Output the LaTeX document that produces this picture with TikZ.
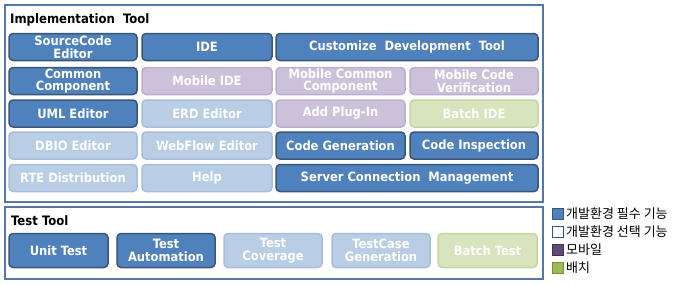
\documentclass[tikz,border=0pt]{standalone}
\usepackage{fontspec}
\setmainfont{DejaVu Sans Condensed}
\newfontfamily\krfont{Noto Sans CJK KR}
\definecolor{mustfill}{HTML}{4F81BD}
\definecolor{mustline}{HTML}{3A5676}
\definecolor{optfill}{HTML}{B9CDE5}
\definecolor{optline}{HTML}{A7BDDA}
\definecolor{mobfill}{HTML}{CCC1DA}
\definecolor{mobline}{HTML}{BBAFCB}
\definecolor{batfill}{HTML}{D7E4BD}
\definecolor{batline}{HTML}{C4D5A5}
\definecolor{frameline}{HTML}{5476A8}
\definecolor{legmob}{HTML}{604A7B}
\definecolor{legmobline}{HTML}{3F3151}
\definecolor{legbat}{HTML}{9BBB59}
\definecolor{legbatline}{HTML}{76923C}
\tikzset{
    tool/.style={draw, line width=1.5pt, rounded corners=4pt, inner sep=0pt,
        align=center, text=white, minimum height=27pt,
        font=\fontsize{12.8}{12.8}\selectfont\bfseries},
    musttool/.style={tool, fill=mustfill, draw=mustline},
    opttool/.style={tool, fill=optfill, draw=optline},
    mobiletool/.style={tool, fill=mobfill, draw=mobline},
    batchtool/.style={tool, fill=batfill, draw=batline},
    group/.style={draw=frameline, line width=2pt, anchor=north west, inner sep=0pt},
    grouptitle/.style={anchor=west, inner sep=0pt, font=\fontsize{13}{13}\selectfont\bfseries},
    legbox/.style={draw, line width=1.5pt, minimum size=11pt, inner sep=0pt},
    legtext/.style={anchor=west, inner sep=0pt, font=\krfont\fontsize{13}{13}\selectfont}
}
\begin{document}
\begin{tikzpicture}[x=1pt,y=-1pt]
    \useasboundingbox (0,0) rectangle (675,284);
    % implementation tool
    \node[group, minimum width=538pt, minimum height=197pt] (impl) at (4,4) {};
    \node[grouptitle] (impltitle) at (10,20) {Implementation~~Tool};
    \node[musttool, minimum width=128pt] (srcedit) at (73,47) {SourceCode\\Editor};
    \node[musttool, minimum width=130pt] (ide) at (207,47) {IDE};
    \node[musttool, minimum width=262pt] (custom) at (407,47) {Customize~~Development~~Tool};
    \node[musttool, minimum width=128pt] (common) at (73,81) {Common\\Component};
    \node[mobiletool, minimum width=130pt] (mobide) at (207,81) {Mobile IDE};
    \node[mobiletool, minimum width=129pt] (mobcommon) at (340.5,81) {Mobile Common\\Component};
    \node[mobiletool, minimum width=128pt] (mobverify) at (474,81) {Mobile Code\\Verification};
    \node[musttool, minimum width=128pt] (uml) at (73,113.5) {UML Editor};
    \node[opttool, minimum width=130pt] (erd) at (207,113.5) {ERD Editor};
    \node[mobiletool, minimum width=129pt] (plugin) at (340.5,113.5) {Add Plug-In};
    \node[batchtool, minimum width=128pt] (batchide) at (474,113.5) {Batch IDE};
    \node[opttool, minimum width=128pt] (dbio) at (73,145.5) {DBIO Editor};
    \node[opttool, minimum width=130pt] (webflow) at (207,145.5) {WebFlow Editor};
    \node[musttool, minimum width=129pt] (codegen) at (340.5,145.5) {Code Generation};
    \node[musttool, minimum width=128pt] (inspect) at (474,145.5) {Code Inspection};
    \node[opttool, minimum width=128pt] (rte) at (73,178) {RTE Distribution};
    \node[opttool, minimum width=130pt] (help) at (207,178) {Help};
    \node[musttool, minimum width=262pt] (server) at (407,178) {Server Connection~~Management};
    % test tool
    \node[group, minimum width=538pt, minimum height=72pt] (test) at (4,206) {};
    \node[grouptitle] (testtitle) at (11,221) {Test Tool};
    \node[musttool, minimum width=99pt, minimum height=34pt] (unit) at (58.5,250.5) {Unit Test};
    \node[musttool, minimum width=98pt, minimum height=34pt] (autotest) at (166,250.5) {Test\\Automation};
    \node[opttool, minimum width=98pt, minimum height=34pt] (coverage) at (273,250.5) {Test\\Coverage};
    \node[opttool, minimum width=98pt, minimum height=34pt] (casegen) at (381,250.5) {TestCase\\Generation};
    \node[batchtool, minimum width=99pt, minimum height=34pt] (batchtest) at (487.5,250.5) {Batch Test};
    % legend
    \node[legbox, fill=mustfill, draw=mustline] (legmust) at (558,214) {};
    \node[legtext] (legmusttext) at (566,214) {개발환경 필수 기능};
    \node[legbox, fill=white, draw=mustline] (legopt) at (558,232) {};
    \node[legtext] (legopttext) at (566,232) {개발환경 선택 기능};
    \node[legbox, fill=legmob, draw=legmobline] (legmobile) at (558,250) {};
    \node[legtext] (legmobiletext) at (566,250) {모바일};
    \node[legbox, fill=legbat, draw=legbatline] (legbatch) at (558,268) {};
    \node[legtext] (legbatchtext) at (566,268) {배치};
\end{tikzpicture}
\end{document}
